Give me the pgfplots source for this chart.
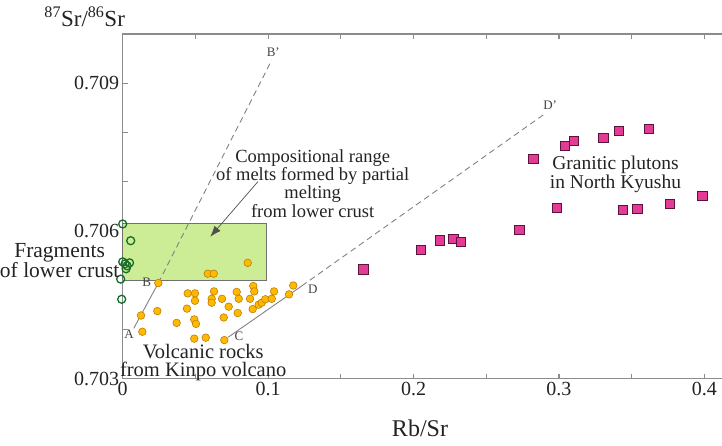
\documentclass[border=0pt]{standalone}
\usepackage{fontspec}
\setmainfont{Liberation Serif}
\usepackage{pgfplots}
\pgfplotsset{compat=1.18}
\usetikzlibrary{arrows.meta}
\definecolor{axisgray}{RGB}{140,140,140}
\definecolor{boxgreen}{RGB}{205,236,150}
\definecolor{darkgreen}{RGB}{20,110,40}
\definecolor{orfill}{RGB}{255,186,0}
\definecolor{ordraw}{RGB}{190,125,0}
\definecolor{pkfill}{RGB}{228,60,150}
\definecolor{pkdraw}{RGB}{90,20,60}
\definecolor{txt}{RGB}{35,35,35}
\definecolor{linegray}{RGB}{130,130,130}
\begin{document}
\begin{tikzpicture}
\path[use as bounding box] (-122.7pt,-66.5pt) rectangle (599.3pt,378.5pt);
\begin{axis}[
  scale only axis, width=601.5pt, height=344.5pt,
  xmin=0, xmax=0.41368, ymin=0.703, ymax=0.710,
  clip=false,
  axis line style={axisgray, line width=1.2pt},
  tick style={axisgray, line width=1.2pt},
  major tick length=5pt, minor tick length=5pt,
  tick align=inside,
  xtick pos=both, ytick pos=left,
  xtick={0,0.1,0.2,0.3,0.4}, xticklabels={\textrm{0},\textrm{0.1},\textrm{0.2},\textrm{0.3},\textrm{0.4}},
  minor xtick={0.05,0.15,0.25,0.35},
  ytick={0.703,0.706,0.709}, yticklabels={\textrm{0.703},\textrm{0.706},\textrm{0.709}},
  minor ytick={0.704,0.705,0.707,0.708},
  scaled x ticks=false, scaled y ticks=false,
  /pgf/number format/assume math mode=true,
  xticklabel style={font=\rmfamily\fontsize{20}{20}\selectfont, text=txt},
  yticklabel style={font=\rmfamily\fontsize{20}{20}\selectfont, text=txt},
]
% compositional range box
\addplot[fill=boxgreen, draw=axisgray!80!black, line width=0.9pt] coordinates {(0,0.70500) (0.099,0.70500) (0.099,0.70615) (0,0.70615) (0,0.70500)};
% mixing lines
\addplot[linegray, line width=0.9pt] coordinates {(0.0076,0.70402) (0.0245,0.70494)};
\addplot[linegray, line width=0.9pt, dash pattern=on 6pt off 4pt] coordinates {(0.0245,0.70494) (0.1025,0.70947)};
\addplot[linegray, line width=0.9pt] coordinates {(0.0726,0.70384) (0.1231,0.70488)};
\addplot[linegray, line width=0.9pt, dash pattern=on 6pt off 4pt] coordinates {(0.1231,0.70488) (0.2904,0.70838)};
% lower crust fragments
\addplot[only marks, mark=o, mark size=4pt, darkgreen, line width=1.3pt] coordinates {
(0,0.70614) (0.0055,0.70580) (0,0.70537) (0.0016,0.70533) (0.0047,0.70535)
(0.0030,0.70529) (0.0023,0.70523) (-0.0014,0.70502) (-0.0007,0.70461)};
% volcanic rocks
\addplot[only marks, mark=*, mark size=3.8pt, mark options={fill=orfill, draw=ordraw, line width=0.6pt}] coordinates {
(0.0245,0.70494) (0.0860,0.70535) (0.0585,0.70513) (0.0626,0.70513) (0.0447,0.70473)
(0.0497,0.70473) (0.0497,0.70458) (0.0628,0.70477) (0.0612,0.70462) (0.0612,0.70454)
(0.0683,0.70462) (0.0784,0.70476) (0.0798,0.70462) (0.0898,0.70488) (0.0905,0.70477)
(0.0876,0.70462) (0.0729,0.70446) (0.0442,0.70442) (0.0238,0.70437) (0.0126,0.70428)
(0.0492,0.70420) (0.0504,0.70411) (0.0371,0.70413) (0.0695,0.70424) (0.0791,0.70433)
(0.0894,0.70441) (0.0935,0.70450) (0.0956,0.70454) (0.0981,0.70461) (0.1025,0.70462)
(0.1041,0.70477) (0.1144,0.70471) (0.1173,0.70489) (0.0135,0.70395) (0.0492,0.70381)
(0.0571,0.70383) (0.0699,0.70378)};
% granitic plutons
\addplot[only marks, mark=square*, mark size=4.6pt, mark options={fill=pkfill, draw=pkdraw, line width=0.6pt}] coordinates {
(0.1655,0.70522) (0.2052,0.70561) (0.2182,0.70581) (0.2274,0.70584) (0.2325,0.70578)
(0.2728,0.70602) (0.2824,0.70746) (0.2985,0.70647) (0.3042,0.70773) (0.3104,0.70783)
(0.3305,0.70789) (0.3413,0.70804) (0.3618,0.70807) (0.3439,0.70642) (0.3539,0.70645)
(0.3764,0.70655) (0.3986,0.70671)};
% arrow
\addplot[txt!80, line width=0.7pt, -{Latex[length=11pt,width=8pt]}] coordinates {(0.0930,0.70700) (0.0602,0.70588)};
\end{axis}
% labels
\node[txt, font=\fontsize{23}{23}\selectfont] at (-38pt,361.5pt) {\textsuperscript{87}Sr/\textsuperscript{86}Sr};
\node[txt, font=\fontsize{24}{24}\selectfont] at (297.3pt,-49.5pt) {Rb/Sr};
\node[txt, align=center, font=\fontsize{18.5}{18.3}\selectfont] at (190pt,195pt) {Compositional range\\of melts formed by partial\\melting\\from lower crust};
\node[txt, align=center, font=\fontsize{19.5}{19}\selectfont] at (492.8pt,204pt) {Granitic plutons\\in North Kyushu};
\node[txt, align=center, inner sep=0pt, font=\fontsize{21.5}{19}\selectfont] at (-63pt,118pt) {Fragments\\of lower crust};
\node[txt, align=center, inner sep=0pt, font=\fontsize{20.5}{18.5}\selectfont] at (80.5pt,16pt) {Volcanic rocks\\from Kinpo volcano};
\begin{scope}[every node/.style={text=txt!85, font=\fontsize{13}{13}\selectfont, inner sep=0pt}]
\node at (6.3pt,44.5pt) {A};
\node at (24pt,95.8pt) {B};
\node at (116.3pt,42pt) {C};
\node at (190pt,89.5pt) {D};
\node at (150.6pt,326.8pt) {B'};
\node at (427.5pt,273.5pt) {D'};
\end{scope}
\end{tikzpicture}
\end{document}
